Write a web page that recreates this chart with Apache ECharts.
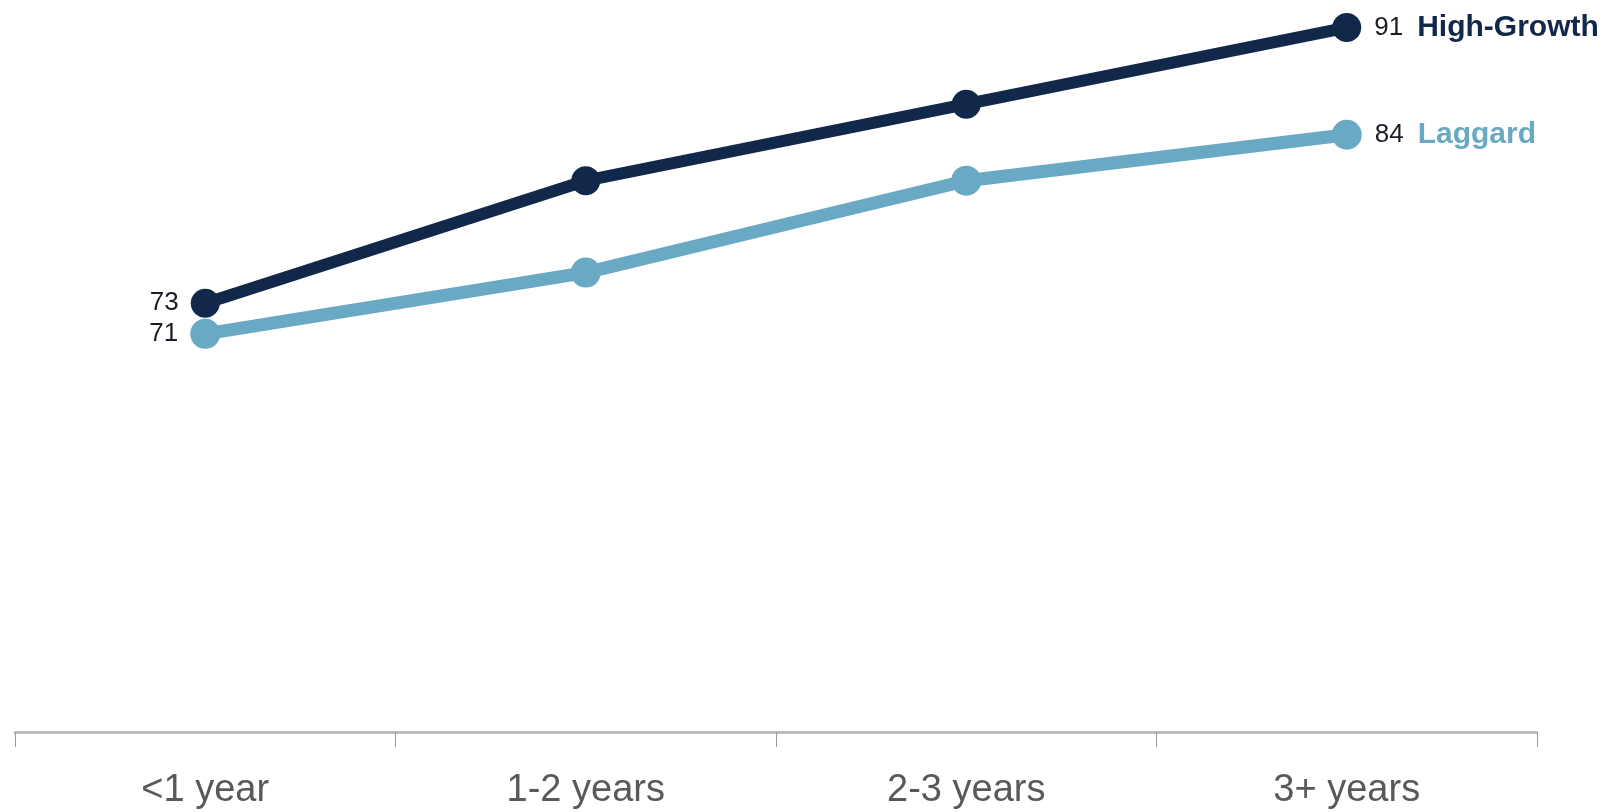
<!DOCTYPE html>
<html>
<head>
<meta charset="utf-8">
<script src="https://cdn.jsdelivr.net/npm/echarts@6/dist/echarts.min.js"></script>
<style>
html,body{margin:0;padding:0;background:#fff;}
#chart{width:1612px;height:812px;}
</style>
</head>
<body>
<div id="chart"></div>
<script>
const categories = ['<1 year', '1-2 years', '2-3 years', '3+ years'];
const highGrowth = [73, 81, 86, 91];
const laggard = [71, 75, 81, 84];
const seriesNames = ['High-Growth', 'Laggard'];

const REG = '"Liberation Sans", Arial, sans-serif';
const colors = ['#11284a', '#6aa9c3'];

function buildData(values, name, color) {
  const last = values.length - 1;
  return values.map((v, i) => {
    if (i === 0) {
      return { value: v, label: { show: true, position: 'left', distance: 12,
        formatter: '{v|{c}}',
        rich: { v: { fontFamily: REG, fontSize: 26, color: '#1c1c28' } } } };
    }
    if (i === last) {
      return { value: v, label: { show: true, position: 'right', distance: 13,
        formatter: '{v|{c}}{n|' + name + '}',
        rich: { v: { fontFamily: REG, fontSize: 26, color: '#1c1c28', padding: [0, 14, 0, 0] },
                n: { fontFamily: REG, fontSize: 30, fontWeight: 'bold', color: color } } } };
    }
    return v;
  });
}

const chart = echarts.init(document.getElementById('chart'));
chart.setOption({
  animation: false,
  grid: { left: 15, right: 75, top: 0, bottom: 80 },
  xAxis: {
    type: 'category',
    data: categories,
    boundaryGap: true,
    axisLine: { lineStyle: { color: '#b3b3b3', width: 2.5 } },
    axisTick: { show: true, length: 15, lineStyle: { color: '#9a9a9a', width: 1 } },
    axisLabel: { fontFamily: REG, fontSize: 38, color: '#595959', margin: 40 }
  },
  yAxis: { type: 'value', min: 45, max: 92.8, show: false, splitLine: { show: false } },
  series: [
    { name: seriesNames[1], type: 'line', data: buildData(laggard, seriesNames[1], colors[1]),
      symbol: 'circle', symbolSize: 30, lineStyle: { width: 13, color: colors[1] },
      itemStyle: { color: colors[1] }, z: 2 },
    { name: seriesNames[0], type: 'line', data: buildData(highGrowth, seriesNames[0], colors[0]),
      symbol: 'circle', symbolSize: 29, lineStyle: { width: 12, color: colors[0] },
      itemStyle: { color: colors[0] }, z: 3 }
  ]
});
</script>
</body>
</html>
